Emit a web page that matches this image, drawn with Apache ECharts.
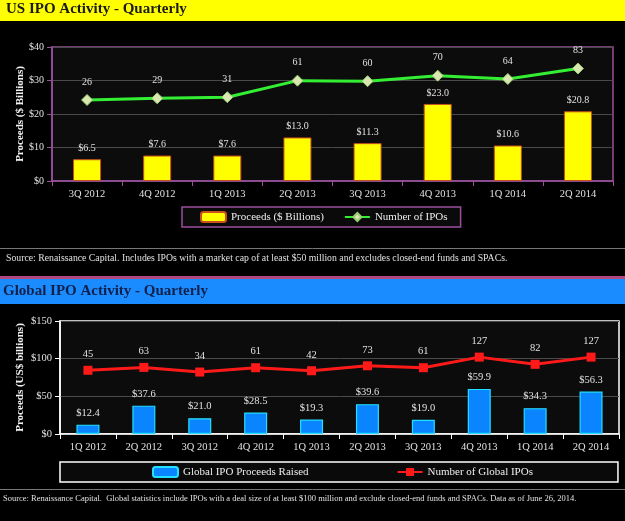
<!DOCTYPE html>
<html><head><meta charset="utf-8">
<script src="https://cdn.jsdelivr.net/npm/echarts@6/dist/echarts.min.js"></script>
<style>html,body{margin:0;padding:0;background:#000;}#c{width:625px;height:521px;}</style>
</head><body><div id="c"></div>
<script>
const usCategories = ['3Q 2012','4Q 2012','1Q 2013','2Q 2013','3Q 2013','4Q 2013','1Q 2014','2Q 2014'];
const usProceeds = [6.5, 7.6, 7.6, 13.0, 11.3, 23.0, 10.6, 20.8];
const usIpoCount = [26, 29, 31, 61, 60, 70, 64, 83];
const globalCategories = ['1Q 2012','2Q 2012','3Q 2012','4Q 2012','1Q 2013','2Q 2013','3Q 2013','4Q 2013','1Q 2014','2Q 2014'];
const globalProceeds = [12.4, 37.6, 21.0, 28.5, 19.3, 39.6, 19.0, 59.9, 34.3, 56.3];
const globalIpoCount = [45, 63, 34, 61, 42, 73, 61, 127, 82, 127];
const usTicks = [0, 10, 20, 30, 40];
const globalTicks = [0, 50, 100, 150];

const serif = '"Liberation Serif", "DejaVu Serif", serif';
const chart = echarts.init(document.getElementById('c'));
const money1 = p => '$' + Number(p.value).toFixed(1);
chart.setOption({
  backgroundColor: '#000',
  animation: false,
  textStyle: {fontFamily: serif},
  graphic: [
    {type:'rect', shape:{x:0,y:0,width:625,height:21}, style:{fill:'#ffff00'}},
    {type:'text', left:6, top:2, style:{text:'US IPO Activity - Quarterly', font:'bold 15px ' + serif, fill:'#1a1a1a'}},
    {type:'line', shape:{x1:0,y1:248.5,x2:625,y2:248.5}, style:{stroke:'#777', lineWidth:1}},
    {type:'text', left:6, top:253, style:{text:'Source: Renaissance Capital. Includes IPOs with a market cap of at least $50 million and excludes closed-end funds and SPACs.', font:'9.75px ' + serif, fill:'#e0e0e0'}},
    {type:'rect', shape:{x:0,y:276,width:625,height:3}, style:{fill:'#b0487f'}},
    {type:'rect', shape:{x:0,y:279,width:625,height:25}, style:{fill:'#1a8cff'}},
    {type:'text', left:3, top:284, style:{text:'Global IPO Activity - Quarterly', font:'bold 15px ' + serif, fill:'#10204a'}},
    {type:'line', shape:{x1:0,y1:489.5,x2:625,y2:489.5}, style:{stroke:'#777', lineWidth:1}},
    {type:'text', left:3, top:494, style:{text:'Source: Renaissance Capital.  Global statistics include IPOs with a deal size of at least $100 million and exclude closed-end funds and SPACs. Data as of June 26, 2014.', font:'8.5px ' + serif, fill:'#e0e0e0'}}
  ],
  grid: [
    {left:52, right:12, top:47, height:134, show:true, borderColor:'#9b4f9e', borderWidth:1.5, backgroundColor:'#0c0c0c'},
    {left:60, right:6, top:321, height:113, show:true, borderColor:'#ffffff', borderWidth:1.5, backgroundColor:'#0c0c0c'}
  ],
  legend: [
    {data:['Proceeds ($ Billions)','Number of IPOs'], left:182, top:207, width:400, padding:[4,13,4,18], itemGap:20,
     itemWidth:25, itemHeight:10, borderColor:'#9b4f9e', borderWidth:1.5, backgroundColor:'#0a0a0a',
     textStyle:{color:'#eee', fontSize:11, fontFamily:serif}},
    {data:['Global IPO Proceeds Raised','Number of Global IPOs'], left:60, top:462, width:560, padding:[4,85,4,92], itemGap:88,
     itemWidth:25, itemHeight:10, borderColor:'#ffffff', borderWidth:1.5, backgroundColor:'#0a0a0a',
     textStyle:{color:'#eee', fontSize:11, fontFamily:serif}}
  ],
  xAxis: [
    {type:'category', gridIndex:0, data:usCategories,
     axisLine:{lineStyle:{color:'#9b4f9e', width:1.5}}, axisTick:{show:true, lineStyle:{color:'#9b4f9e'}},
     axisLabel:{color:'#e0e0e0', fontSize:10.5, fontFamily:serif, margin:8}},
    {type:'category', gridIndex:1, data:globalCategories,
     axisLine:{lineStyle:{color:'#ffffff', width:1.5}}, axisTick:{show:true, lineStyle:{color:'#ffffff'}},
     axisLabel:{color:'#e0e0e0', fontSize:10.5, fontFamily:serif, margin:8}}
  ],
  yAxis: [
    {type:'value', gridIndex:0, min:usTicks[0], max:usTicks[usTicks.length-1], interval:10,
     name:'Proceeds ($ Billions)', nameLocation:'middle', nameGap:26, nameRotate:90, nameMoveOverlap:false,
     nameTextStyle:{color:'#f0f0f0', fontWeight:'bold', fontSize:11, fontFamily:serif},
     axisLine:{show:true, lineStyle:{color:'#9b4f9e', width:1.5}}, axisTick:{show:true, lineStyle:{color:'#9b4f9e'}},
     splitLine:{lineStyle:{color:'#4a4a4a'}},
     axisLabel:{color:'#e0e0e0', fontSize:10, fontFamily:serif, formatter:v => '$' + v}},
    {type:'value', gridIndex:0, min:-121, max:122, show:false, splitLine:{show:false}},
    {type:'value', gridIndex:1, min:globalTicks[0], max:globalTicks[globalTicks.length-1], interval:50,
     name:'Proceeds (US$ billions)', nameLocation:'middle', nameGap:34, nameRotate:90, nameMoveOverlap:false,
     nameTextStyle:{color:'#f0f0f0', fontWeight:'bold', fontSize:11, fontFamily:serif},
     axisLine:{show:true, lineStyle:{color:'#ffffff', width:1.5}}, axisTick:{show:true, lineStyle:{color:'#ffffff'}},
     splitLine:{lineStyle:{color:'#4a4a4a'}},
     axisLabel:{color:'#e0e0e0', fontSize:10.5, fontFamily:serif, formatter:v => '$' + v}},
    {type:'value', gridIndex:1, min:-352, max:352, show:false, splitLine:{show:false}}
  ],
  series: [
    {name:'Proceeds ($ Billions)', type:'bar', xAxisIndex:0, yAxisIndex:0, data:usProceeds, barWidth:28,
     itemStyle:{color:'#ffff00', borderColor:'#c8501e', borderWidth:1},
     label:{show:true, position:'top', distance:6, color:'#e0e0e0', fontSize:10, fontFamily:serif, formatter:money1}},
    {name:'Number of IPOs', type:'line', xAxisIndex:0, yAxisIndex:1, data:usIpoCount,
     lineStyle:{color:'#33ee33', width:3}, symbol:'diamond', symbolSize:11,
     itemStyle:{color:'#d8e8b0', borderColor:'#9acd70', borderWidth:1},
     label:{show:true, position:'top', distance:7, color:'#e0e0e0', fontSize:10, fontFamily:serif}},
    {name:'Global IPO Proceeds Raised', type:'bar', xAxisIndex:1, yAxisIndex:2, data:globalProceeds, barWidth:23,
     itemStyle:{color:'#0a84ff', borderColor:'#22e0ff', borderWidth:1.2},
     label:{show:true, position:'top', distance:6, color:'#e0e0e0', fontSize:10.5, fontFamily:serif, formatter:money1}},
    {name:'Number of Global IPOs', type:'line', xAxisIndex:1, yAxisIndex:3, data:globalIpoCount,
     lineStyle:{color:'#ff1a1a', width:3}, symbol:'rect', symbolSize:9,
     itemStyle:{color:'#ff1a1a'},
     label:{show:true, position:'top', distance:6, color:'#e0e0e0', fontSize:10.5, fontFamily:serif}}
  ]
});
</script></body></html>
